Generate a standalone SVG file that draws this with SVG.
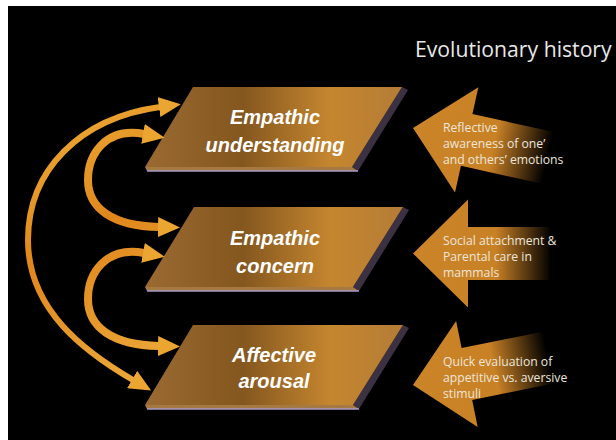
<svg xmlns="http://www.w3.org/2000/svg" width="616" height="440" viewBox="0 0 616 440">
  <style>
    .label { font-family: "Liberation Sans", Arial, sans-serif; font-weight: bold; font-style: italic; font-size: 20px; fill: #ffffff; text-anchor: middle; }
    .note { font-family: "Open Sans", "Liberation Sans", sans-serif; font-size: 12.2px; fill: #ece6da; }
    .title { font-family: "Open Sans", "Liberation Sans", sans-serif; font-size: 21.2px; fill: #e8e8e8; }
    .face { fill: url(#faceGrad); }
    .side { fill: #3b3142; }
    .lip { fill: #a47a42; }
    .edge { fill: none; stroke: #a99ac6; stroke-width: 1.4; }
    .arc { fill: none; stroke: url(#arcGrad); stroke-linecap: butt; }
  </style>
  <defs>
    <linearGradient id="faceGrad" x1="0" y1="0" x2="1" y2="0">
      <stop offset="0" stop-color="#9a6a31"/>
      <stop offset="0.38" stop-color="#84571f"/>
      <stop offset="0.72" stop-color="#c5862f"/>
      <stop offset="1" stop-color="#b47c36"/>
    </linearGradient>
    <linearGradient id="fadeGrad" gradientUnits="userSpaceOnUse" x1="0" y1="0" x2="150" y2="0">
      <stop offset="0" stop-color="#cc8428"/>
      <stop offset="0.55" stop-color="#c98126"/>
      <stop offset="0.92" stop-color="#000000"/>
    </linearGradient>
    <linearGradient id="arcGrad" gradientUnits="userSpaceOnUse" x1="0" y1="100" x2="180" y2="400">
      <stop offset="0" stop-color="#f0b53e"/>
      <stop offset="0.45" stop-color="#e0871c"/>
      <stop offset="1" stop-color="#efb040"/>
    </linearGradient>
    <marker id="head" viewBox="0 0 22 20" refX="1" refY="10" markerWidth="22" markerHeight="20" markerUnits="userSpaceOnUse" orient="auto-start-reverse">
      <path d="M0,0 L22,10 L0,20 Z" fill="#eba632"/>
    </marker>
    <!-- big evolutionary arrow, tip at origin, pointing left -->
    <path id="bigArrow" d="M0,0 L55,-54 L55,-26.5 L150,-26.5 L150,26.5 L55,26.5 L55,54 Z"/>
  </defs>

  <!-- canvas -->
  <rect x="0" y="0" width="616" height="440" fill="#ffffff"/>
  <rect x="8" y="6" width="608" height="434" fill="#000000"/>

  <text class="title" x="415" y="57">Evolutionary history</text>

  <!-- evolutionary origin arrows -->
  <g id="origin-reflective">
    <use href="#bigArrow" fill="url(#fadeGrad)" transform="translate(413,128) rotate(12.5)"/>
    <text class="note" x="443" y="132">Reflective</text>
    <text class="note" x="443" y="148">awareness of one’</text>
    <text class="note" x="443" y="164">and others’ emotions</text>
  </g>
  <g id="origin-social">
    <use href="#bigArrow" fill="url(#fadeGrad)" transform="translate(413,253.5)"/>
    <text class="note" x="443" y="245">Social attachment &amp;</text>
    <text class="note" x="443" y="261">Parental care in</text>
    <text class="note" x="443" y="277">mammals</text>
  </g>
  <g id="origin-quick">
    <use href="#bigArrow" fill="url(#fadeGrad)" transform="translate(413,385) rotate(-11.5)"/>
    <text class="note" x="443" y="366">Quick evaluation of</text>
    <text class="note" x="443" y="382">appetitive vs. aversive</text>
    <text class="note" x="443" y="398">stimuli</text>
  </g>

  <!-- bevelled parallelogram nodes -->
  <g id="node-understanding">
    <polygon class="side" points="402,87 408,90 358,171 352,167"/>
    <polygon class="lip" points="145,167 352,167 358,171 147,171"/>
    <line class="edge" x1="147" y1="171" x2="358" y2="171"/>
    <polygon class="face" points="193,87 402,87 352,167 145,167"/>
    <text class="label" x="275" y="124">Empathic</text>
    <text class="label" x="275" y="152">understanding</text>
  </g>
  <g id="node-concern">
    <polygon class="side" points="403,207 409,210 359,291 353,287"/>
    <polygon class="lip" points="145,287 353,287 359,291 147,291"/>
    <line class="edge" x1="147" y1="291" x2="359" y2="291"/>
    <polygon class="face" points="194,207 403,207 353,287 145,287"/>
    <text class="label" x="275" y="245">Empathic</text>
    <text class="label" x="275" y="273">concern</text>
  </g>
  <g id="node-arousal">
    <polygon class="side" points="403,325 409,328 359,409 353,405"/>
    <polygon class="lip" points="145,405 353,405 359,409 147,409"/>
    <line class="edge" x1="147" y1="409" x2="359" y2="409"/>
    <polygon class="face" points="193,325 403,325 353,405 145,405"/>
    <text class="label" x="274" y="362">Affective</text>
    <text class="label" x="274" y="388">arousal</text>
  </g>

  <!-- bidirectional links between levels -->
  <g id="connectors">
    <path class="arc" stroke-width="6" marker-start="url(#head)" marker-end="url(#head)"
          d="M160,107 C80,118 28,170 28,240 C28,310 85,352 133,380"/>
    <path class="arc" stroke-width="8" marker-start="url(#head)" marker-end="url(#head)"
          d="M144,134 C105,127 88,155 88,180 C88,208 112,226 159,227"/>
    <path class="arc" stroke-width="8" marker-start="url(#head)" marker-end="url(#head)"
          d="M144,253 C105,246 88,274 88,299 C88,327 112,345 159,346"/>
  </g>
</svg>
